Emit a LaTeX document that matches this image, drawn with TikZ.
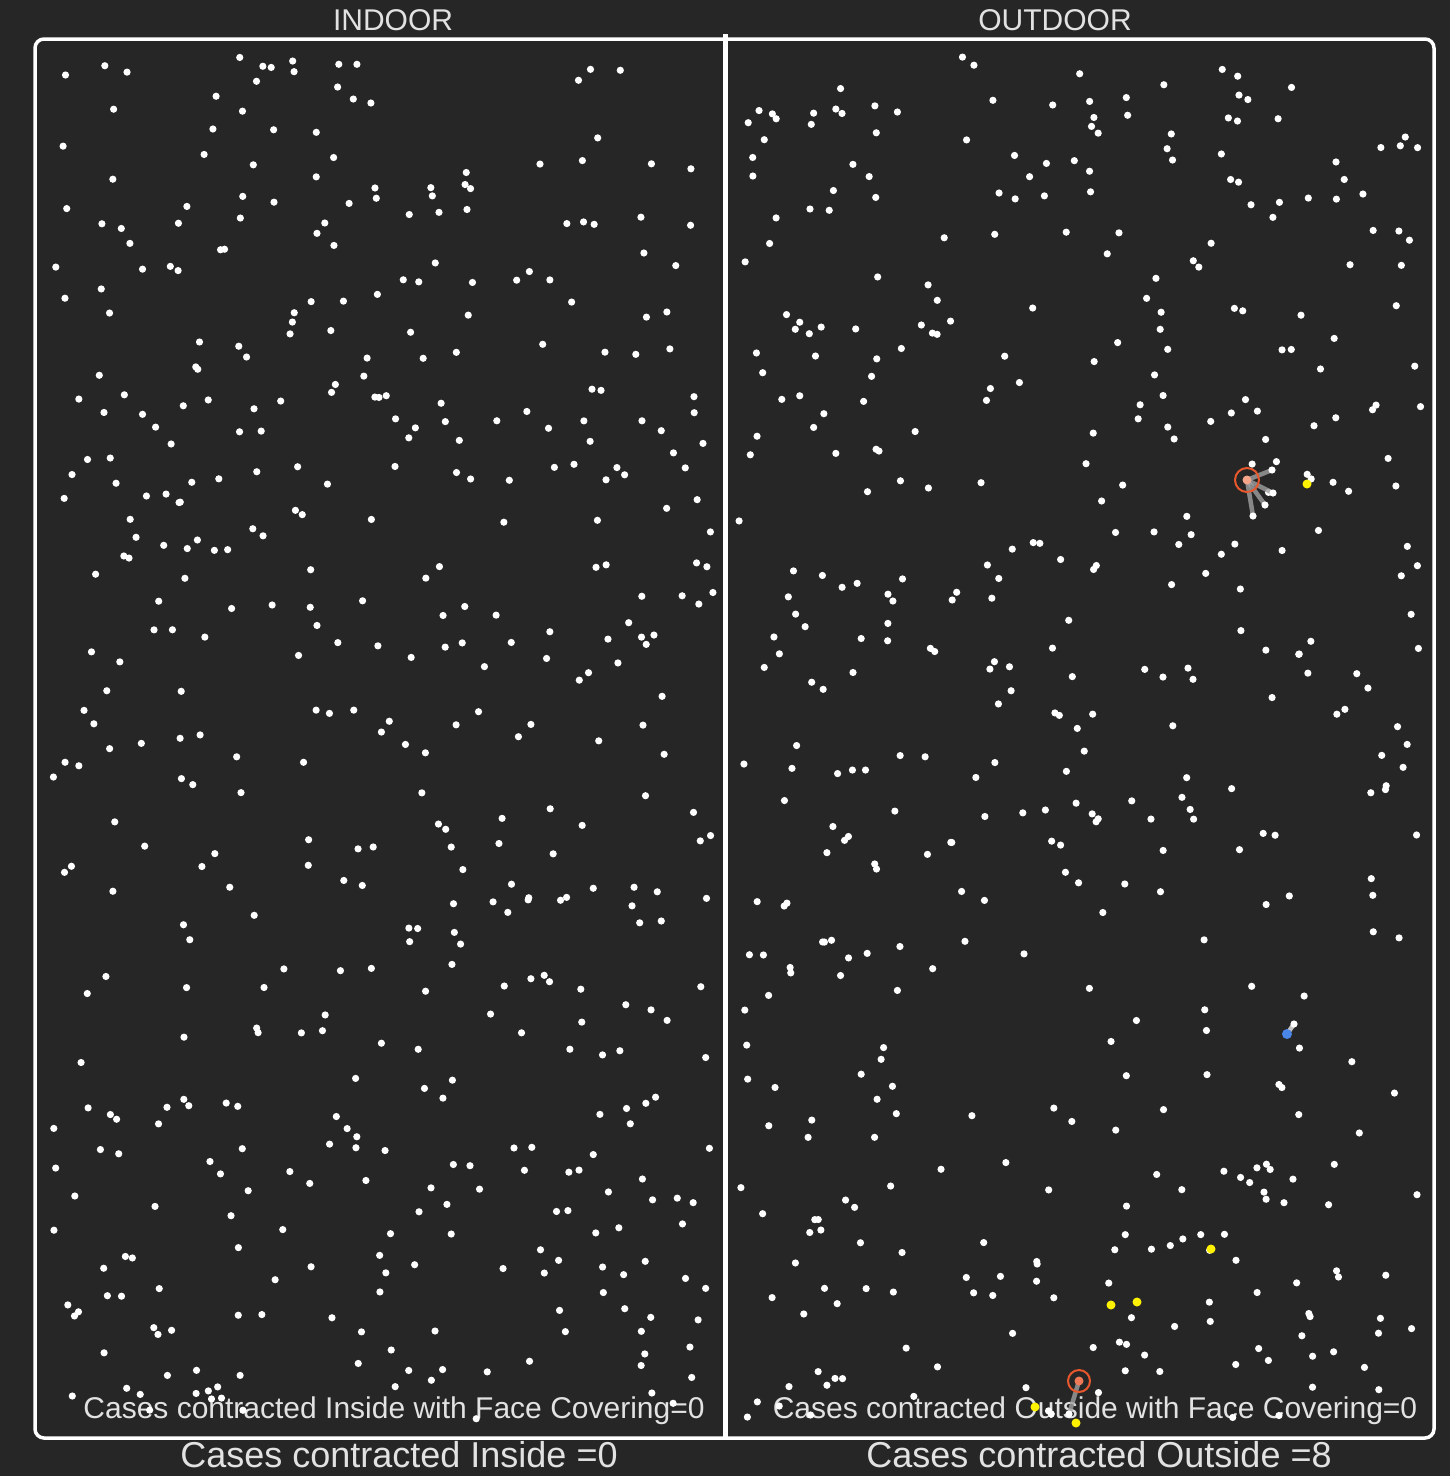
\documentclass[tikz,border=0pt]{standalone}
\usepackage{fontspec}
\setmainfont{Liberation Sans}
\usetikzlibrary{positioning}
\definecolor{bg}{HTML}{262626}
\definecolor{txt}{HTML}{E2E2E2}
\definecolor{infect}{HTML}{E8582C}
\definecolor{infcore}{HTML}{F4A58A}
\definecolor{mask}{HTML}{4A86E8}
\definecolor{caught}{HTML}{FFF200}
\definecolor{link}{HTML}{A0A0A0}
\tikzset{
  person/.style={fill=white},
  roomtitle/.style={text=txt, anchor=base, inner sep=0pt, font=\fontsize{30}{36}\selectfont},
  facecount/.style={text=txt, anchor=base, inner sep=0pt, font=\fontsize{30}{36}\selectfont},
  casecount/.style={text=txt, anchor=base, inner sep=0pt, font=\fontsize{36}{42}\selectfont},
  ring/.style={draw=infect, line width=2pt},
  contact/.style={draw=link, line width=4.5pt, opacity=0.8},
  wall/.style={draw=white, line width=3.5pt},
}

\begin{document}
\begin{tikzpicture}[x=1pt, y=-1pt]
  \fill[bg] (0,0) rectangle (1450,1476);
  \useasboundingbox (0,0) rectangle (1450,1476);

  % room outline and divider
  \draw[wall, rounded corners=9pt] (35,39) rectangle (1434,1438);
  \draw[wall, line width=5pt] (725,34) -- (725,1438);

  % titles and counters
  \node[roomtitle] (indoor) at (393,30) {INDOOR};
  \node[roomtitle] (outdoor) at (1055,30) {OUTDOOR};
  \node[facecount] (infc) at (394,1418) {Cases contracted Inside with Face Covering=0};
  \node[facecount] (outfc) at (1095,1418) {Cases contracted Outside with Face Covering=0};
  \node[casecount] (inc) at (399,1467) {Cases contracted Inside =0};
  \node[casecount] (outc) at (1099,1467) {Cases contracted Outside =8};

  % people
  \pgfmathsetseed{2020}
  \foreach \i in {1,...,480}{
    \pgfmathsetmacro{\px}{52+664*rnd}
    \pgfmathsetmacro{\py}{56+1364*rnd}
    \fill[person] (\px,\py) circle (3.6pt);
  }
  \foreach \i in {1,...,470}{
    \pgfmathsetmacro{\px}{738+684*rnd}
    \pgfmathsetmacro{\py}{56+1364*rnd}
    \fill[person] (\px,\py) circle (3.6pt);
  }

  % infected people and their contacts
  \coordinate (inf1) at (1247,480);
  \coordinate (inf2) at (1079,1381);
  \coordinate (blue) at (1287,1034);
  \coordinate (ca1) at (1272,470);
  \coordinate (ca2) at (1273,493);
  \coordinate (ca3) at (1265,505);
  \coordinate (ca4) at (1253,516);
  \coordinate (cb1) at (1069,1414);
  \coordinate (cc1) at (1294,1024);
  \draw[contact] (inf1) -- (ca1);
  \draw[contact] (inf1) -- (ca2);
  \draw[contact] (inf1) -- (ca3);
  \draw[contact] (inf1) -- (ca4);
  \draw[contact] (inf2) -- (cb1);
  \draw[contact, draw=white!85!gray] (blue) -- (cc1);
  \fill[person] (ca1) circle (3.6pt);
  \fill[person] (ca2) circle (3.6pt);
  \fill[person] (ca3) circle (3.6pt);
  \fill[person] (ca4) circle (3.6pt);
  \fill[person] (cb1) circle (3.6pt);
  \fill[person] (cc1) circle (3.6pt);

  \draw[ring] (inf1) circle (12pt);
  \fill[infcore] (inf1) circle (4.5pt);
  \draw[ring] (inf2) circle (11pt);
  \fill[infect!80!white] (inf2) circle (4.5pt);
  \fill[mask] (blue) circle (5pt);

  % newly caught cases
  \foreach \c in {(1307,484),(1211,1249),(1111,1305),(1137,1302),(1035,1407),(1076,1423)}
    \fill[caught] \c circle (4.5pt);
\end{tikzpicture}
\end{document}
